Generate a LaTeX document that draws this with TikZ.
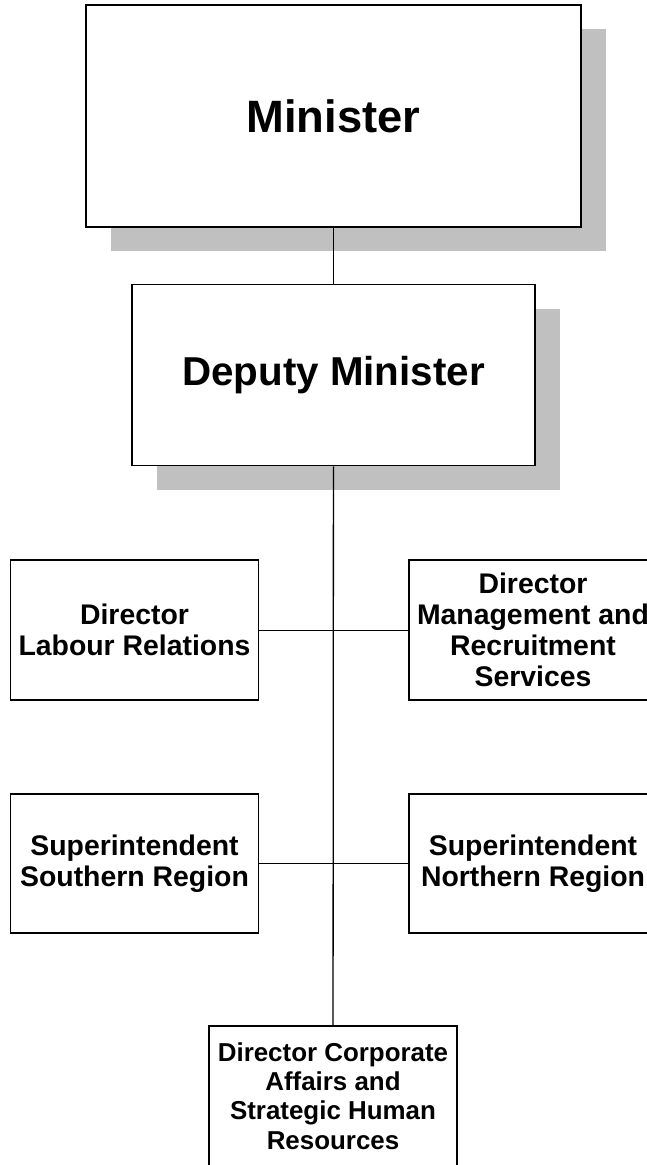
\documentclass[tikz,border=0pt]{standalone}
\usepackage{fontspec}
\setmainfont{Liberation Sans}
\usepackage{xcolor}
\definecolor{shadowGray}{HTML}{C0C0C0}
\usepackage{tikz}
\usetikzlibrary{positioning, shadows}

\begin{document}
\begin{tikzpicture}[
		x=1bp, y=-1bp,
		node distance=56bp,
		box/.style={
			draw,
			fill=white,
			line width=1.5bp,
			inner sep=0pt,
			minimum width=248bp,
			minimum height=140bp,
			align=center,
			font=\fontsize{28.5}{31}\selectfont\bfseries
		},
		topbox/.style={
			box,
			drop shadow={shadow xshift=25bp, shadow yshift=-24bp, fill=shadowGray, opacity=1}
		},
		link/.style={line width=0.8bp},
		trunk/.style={line width=1.3bp}
		]
		
		\useasboundingbox (0,0) rectangle (647,1165);
		\clip (0,0) rectangle (647,1165);
		
		\node[topbox, minimum width=495bp, minimum height=222bp, font=\fontsize{45.5}{54}\selectfont\bfseries] (minister) at (333.5,116) {Minister};
		\node[topbox, minimum width=403bp, minimum height=181bp, font=\fontsize{40.5}{48}\selectfont\bfseries, below=of minister] (deputy) {Deputy Minister};
		
		\node[box] (labour) at (134.5,630) {Director\\Labour Relations};
		\node[box, right=149bp of labour] (mgmt) {Director\\Management and\\Recruitment\\Services};
		\node[box, minimum height=139bp] (south) at (134.5,863.5) {Superintendent\\Southern Region};
		\node[box, minimum height=139bp, right=149bp of south] (north) {Superintendent\\Northern Region};
		\node[box, font=\fontsize{26}{29.5}\selectfont\bfseries] (corporate) at (333,1096) {Director Corporate\\Affairs and\\Strategic Human\\Resources};
		
		\draw[link] (minister) -- (deputy);
		\draw[trunk] (deputy) -- (corporate);
		\draw[link] (labour) -- (mgmt);
		\draw[link] (south) -- (north);
		
	\end{tikzpicture}
\end{document}
